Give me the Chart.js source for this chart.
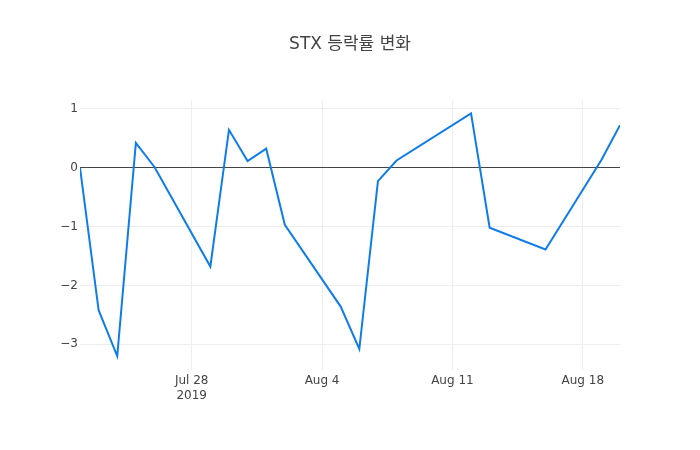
<!DOCTYPE html>
<html>
  <head>
    <style>
      body { margin: 0; background: white; }
      #chart-container { position: relative; width: 700px; height: 450px; }
    </style>
  </head>
  <body>
    <div id="chart-container">
      <canvas id="chart" width="700" height="450"></canvas>
    </div>

    <script src="https://cdn.jsdelivr.net/npm/chart.js"></script>
    <script>
      // trading days and daily change (%)
      const dates = [
        "2019-07-22", "2019-07-23", "2019-07-24", "2019-07-25", "2019-07-26",
        "2019-07-29", "2019-07-30", "2019-07-31", "2019-08-01", "2019-08-02",
        "2019-08-05", "2019-08-06", "2019-08-07", "2019-08-08", "2019-08-12",
        "2019-08-13", "2019-08-16", "2019-08-19", "2019-08-20"
      ];
      const changes = [
        0, -2.42, -3.2, 0.42, 0.01,
        -1.68, 0.64, 0.11, 0.32, -0.97,
        -2.36, -3.08, -0.23, 0.12, 0.92,
        -1.02, -1.39, 0.13, 0.72
      ];
      const tickDates = ["2019-07-28", "2019-08-04", "2019-08-11", "2019-08-18"];
      const tickLabels = [["Jul 28", "2019"], ["Aug 4"], ["Aug 11"], ["Aug 18"]];
      const yTicks = [-3, -2, -1, 0, 1];

      const title = "STX 등락률 변화";
      const lineColor = "rgb(15, 125, 232)";

      // no date adapter offline, so work in days from the first date
      const DAY = 24 * 3600 * 1000;
      const t0 = Date.parse(dates[0]);
      function dayOf(d) { return (Date.parse(d) - t0) / DAY; }

      const points = dates.map(function (d, i) { return { x: dayOf(d), y: changes[i] }; });
      const tickDays = tickDates.map(dayOf);

      const font = { family: "'DejaVu Sans', 'Noto Sans CJK KR', sans-serif", size: 12 };

      new Chart(document.getElementById("chart"), {
        type: "line",
        data: {
          datasets: [{
            data: points,
            borderColor: lineColor,
            borderWidth: 2,
            pointRadius: 0,
            tension: 0,
            fill: false
          }]
        },
        options: {
          responsive: false,
          animation: false,
          devicePixelRatio: 1,
          plugins: {
            legend: { display: false },
            tooltip: { enabled: false },
            title: {
              display: true,
              text: title,
              color: "#444",
              font: { family: font.family, size: 17, weight: "normal" },
              padding: { top: 34, bottom: 46 }
            }
          },
          scales: {
            x: {
              type: "linear",
              min: dayOf(dates[0]),
              max: dayOf(dates[dates.length - 1]),
              afterBuildTicks: function (scale) {
                scale.ticks = tickDays.map(function (v) { return { value: v }; });
              },
              afterFit: function (scale) { scale.height = 80; },
              ticks: {
                color: "#444",
                font: font,
                padding: 4,
                maxRotation: 0,
                autoSkip: false,
                callback: function (value) {
                  const i = tickDays.indexOf(value);
                  return i === -1 ? "" : tickLabels[i];
                }
              },
              grid: { color: "#eee", drawTicks: false },
              border: { display: false }
            },
            y: {
              min: -3.436,
              max: 1.14,
              afterBuildTicks: function (scale) {
                scale.ticks = yTicks.map(function (v) { return { value: v }; });
              },
              afterFit: function (scale) { scale.width = 80; },
              ticks: {
                color: "#444",
                font: font,
                padding: 2,
                callback: function (value) {
                  return value < 0 ? "\u2212" + Math.abs(value) : String(value);
                }
              },
              grid: {
                drawTicks: false,
                color: function (ctx) { return ctx.tick && ctx.tick.value === 0 ? "#444" : "#eee"; }
              },
              border: { display: false }
            },
            // empty right margin, so the title stays centred on the page
            right: {
              position: "right",
              afterFit: function (scale) { scale.width = 80; },
              ticks: { display: false },
              grid: { display: false, drawTicks: false },
              border: { display: false }
            }
          }
        }
      });
    </script>
  </body>
</html>
